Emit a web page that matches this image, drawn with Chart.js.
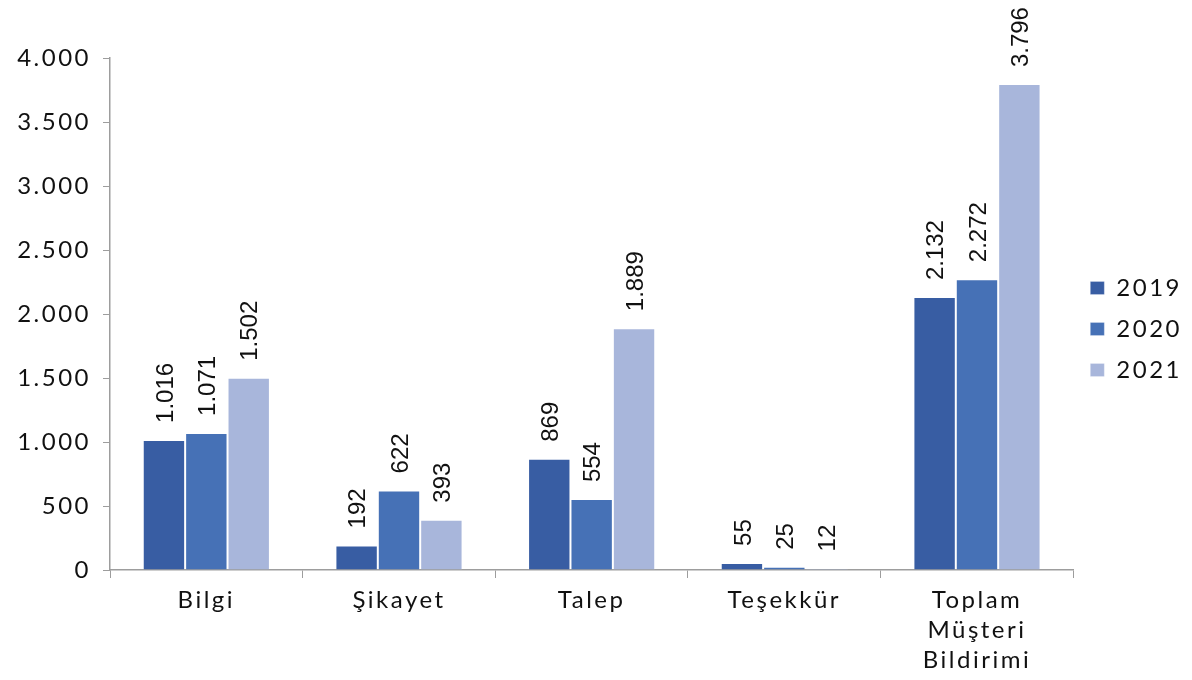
<!DOCTYPE html>
<html>
<head>
<meta charset="utf-8">
<script src="https://cdn.jsdelivr.net/npm/chart.js@4.4.0/dist/chart.umd.min.js"></script>
<style>
  html, body { margin: 0; padding: 0; background: #fff; }
  #wrap { width: 1192px; height: 680px; }
</style>
</head>
<body>
<div id="wrap"><canvas id="chart" width="1192" height="680"></canvas></div>
<script>
// Datos del gráfico
const categories = ['Bilgi', 'Şikayet', 'Talep', 'Teşekkür', ['Toplam', 'Müşteri', 'Bildirimi']];
const years = ['2019', '2020', '2021'];
const values2019 = [1016, 192, 869, 55, 2132];
const values2020 = [1071, 622, 554, 25, 2272];
const values2021 = [1502, 393, 1889, 12, 3796];
const yTicks = [0, 500, 1000, 1500, 2000, 2500, 3000, 3500, 4000];

const colors = ['#385da3', '#4671b6', '#a8b6db'];
const fmt = v => v.toLocaleString('tr-TR');

// Espaciado de letras para los textos de ejes y leyenda
const spacingPlugin = {
    id: 'spacing',
    beforeDraw: chart => { chart.ctx.letterSpacing = '2.5px'; }
};

// Etiquetas de valor giradas encima de cada barra
const valueLabels = {
    id: 'valueLabels',
    afterDatasetsDraw: chart => {
        const ctx = chart.ctx;
        ctx.save();
        ctx.letterSpacing = '0px';
        ctx.font = '24px "Liberation Sans", Arial, sans-serif';
        ctx.fillStyle = '#111';
        ctx.textAlign = 'left';
        ctx.textBaseline = 'middle';
        chart.data.datasets.forEach((ds, i) => {
            chart.getDatasetMeta(i).data.forEach((bar, j) => {
                ctx.save();
                ctx.translate(bar.x + 2, bar.y - 17);
                ctx.rotate(-Math.PI / 2);
                ctx.fillText(fmt(ds.data[j]), 0, 0);
                ctx.restore();
            });
        });
        ctx.restore();
    }
};

const axisColor = '#9d9d9d';
const tickFont = { family: 'Lato, sans-serif', size: 24 };

new Chart(document.getElementById('chart').getContext('2d'), {
    type: 'bar',
    data: {
        labels: categories,
        datasets: [values2019, values2020, values2021].map((d, i) => ({
            label: years[i],
            data: d,
            backgroundColor: colors[i],
            borderColor: 'rgba(255,255,255,0.25)',
            borderWidth: 1,
            categoryPercentage: 0.66,
            barPercentage: 1.0
        }))
    },
    options: {
        responsive: false,
        animation: false,
        layout: { padding: { top: 58, right: 10, bottom: 0, left: 0 } },
        plugins: {
            tooltip: { enabled: false },
            legend: {
                position: 'right',
                align: 'start',
                // título vacío usado solo para bajar la leyenda
                title: { display: true, text: '', font: { size: 10, lineHeight: '1px' }, padding: { top: 200, bottom: 0 } },
                labels: {
                    boxWidth: 14,
                    boxHeight: 13,
                    padding: 17,
                    color: '#111',
                    font: tickFont
                }
            }
        },
        scales: {
            x: {
                afterFit: s => { s.height = 110; },
                border: { color: axisColor, width: 1.5 },
                grid: { display: true, drawOnChartArea: false, drawTicks: true, tickLength: 8, color: axisColor, offset: true },
                ticks: {
                    color: '#111',
                    font: { family: 'Lato, sans-serif', size: 24, lineHeight: 1.25 },
                    padding: 7,
                    maxRotation: 0,
                    autoSkip: false
                }
            },
            y: {
                min: 0,
                max: 4000,
                afterFit: s => { s.width = 110; },
                afterBuildTicks: s => { s.ticks = yTicks.map(v => ({ value: v })); },
                border: { color: axisColor, width: 1.5 },
                grid: { display: true, drawOnChartArea: false, drawTicks: true, tickLength: 7, color: axisColor },
                ticks: {
                    color: '#111',
                    font: tickFont,
                    padding: 12,
                    callback: v => fmt(v)
                }
            }
        }
    },
    plugins: [spacingPlugin, valueLabels]
});
</script>
</body>
</html>
